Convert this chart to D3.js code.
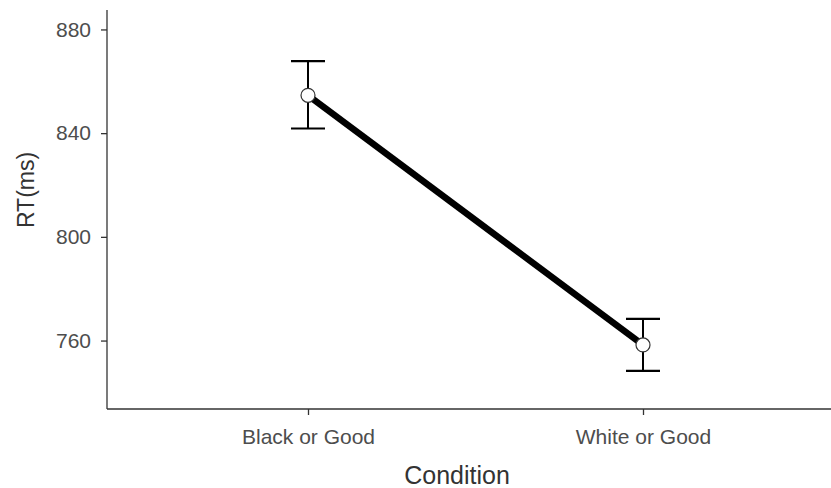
<!DOCTYPE html>
<html><head><meta charset="utf-8">
<script src="https://cdn.jsdelivr.net/npm/d3@7"></script>
<style>body{margin:0;background:#fff}svg{display:block}text{font-family:"Liberation Sans",Arial,sans-serif}</style>
</head><body>
<script>
const categories = ["Black or Good", "White or Good"];
const means = [854.6, 758.3];
const errLow = [841.8, 748.3];
const errHigh = [867.8, 768.4];
const yTicks = [760, 800, 840, 880];

const W = 831, H = 488;
const mLeft = 107, mRight = 844, mTop = 10, mBottom = 409;
const svg = d3.select("body").append("svg").attr("width", W).attr("height", H);

const x = d3.scaleLinear().domain([0.4, 2.6]).range([mLeft, mRight]);
const y = d3.scaleLinear().domain([733.6, 887.5]).range([mBottom, mTop]);
const data = categories.map((c, i) => ({c, i: i + 1, m: means[i], lo: errLow[i], hi: errHigh[i]}));

// axes
const yAxis = d3.axisLeft(y).tickValues(yTicks).tickSize(6).tickPadding(10);
const gy = svg.append("g").attr("transform", `translate(${mLeft},0)`).call(yAxis);
gy.select(".domain").attr("d", `M0,${mTop}V${mBottom}`);
const xAxis = d3.axisBottom(x).tickValues([1, 2]).tickFormat((d) => categories[d - 1]).tickSize(6).tickPadding(14);
const gx = svg.append("g").attr("transform", `translate(0,${mBottom})`).call(xAxis);
gx.select(".domain").attr("d", `M${mLeft},0H${mRight}`);
[gx, gy].forEach(g => {
  g.select(".domain").attr("stroke", "#333").attr("stroke-width", 1.3);
  g.selectAll(".tick line").attr("stroke", "#333").attr("stroke-width", 1.3);
  g.selectAll(".tick text").attr("fill", "#4d4d4d").style("font-size", "21px");
});

// error bars
const eb = svg.append("g");
data.forEach(d => {
  eb.append("line").attr("x1", x(d.i)).attr("x2", x(d.i)).attr("y1", y(d.lo)).attr("y2", y(d.hi))
    .attr("stroke", "#000").attr("stroke-width", 2);
  [d.lo, d.hi].forEach(v => eb.append("line").attr("x1", x(d.i) - 17).attr("x2", x(d.i) + 17)
    .attr("y1", y(v)).attr("y2", y(v)).attr("stroke", "#000").attr("stroke-width", 2.2));
});

// line
svg.append("path").datum(data)
  .attr("d", d3.line().x(d => x(d.i)).y(d => y(d.m)))
  .attr("fill", "none").attr("stroke", "#000").attr("stroke-width", 6.5);

// points
svg.selectAll("circle.pt").data(data).join("circle").attr("class", "pt")
  .attr("cx", d => x(d.i)).attr("cy", d => y(d.m)).attr("r", 7)
  .attr("fill", "#fff").attr("stroke", "#333").attr("stroke-width", 1.2);

// titles
svg.append("text").attr("x", 457).attr("y", 484).attr("text-anchor", "middle")
  .attr("fill", "#333").style("font-size", "25px").text("Condition");
svg.append("text").attr("transform", `translate(34,190) rotate(-90)`).attr("text-anchor", "middle")
  .attr("fill", "#333").style("font-size", "23px").text("RT(ms)");
</script>
</body></html>
